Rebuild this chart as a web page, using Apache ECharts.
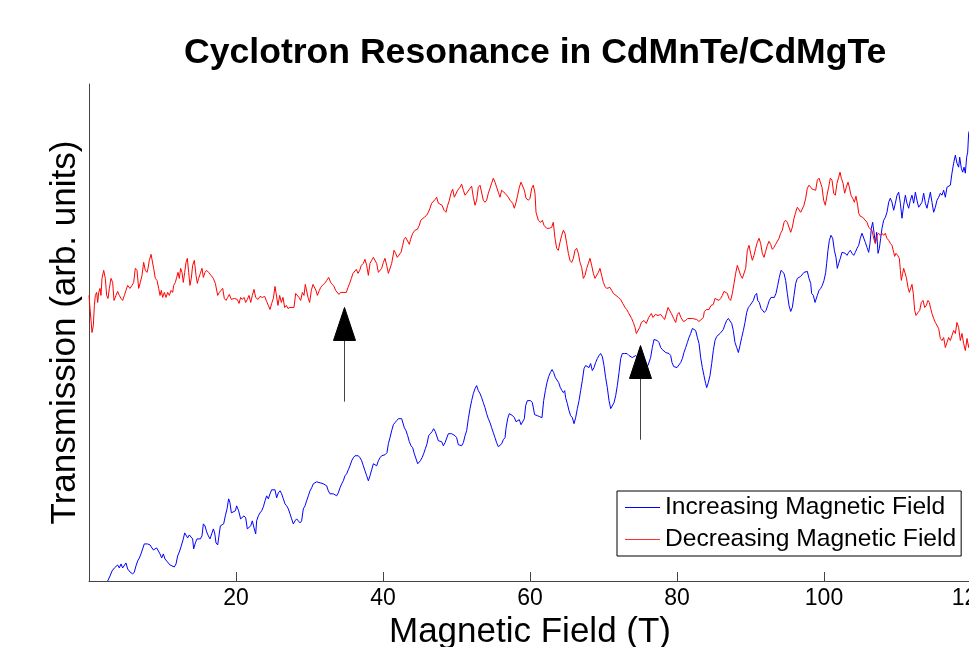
<!DOCTYPE html>
<html>
<head>
<meta charset="utf-8">
<script src="https://cdn.jsdelivr.net/npm/echarts@6/dist/echarts.min.js"></script>
<style>
html,body{margin:0;padding:0;background:#fff;}
#chart{width:969px;height:647px;}
</style>
</head>
<body>
<div id="chart"></div>
<script>
// ---- data ----
const titleText = 'Cyclotron Resonance in CdMnTe/CdMgTe';
const xAxisName = 'Magnetic Field (T)';
const yAxisName = 'Transmission (arb. units)';
const seriesNames = ['Increasing Magnetic Field', 'Decreasing Magnetic Field'];
const xTicks = [0, 20, 40, 60, 80, 100, 120];

// Decreasing field sweep (red): field in T, transmission in arb. units
const redField = [0.0,0.14,0.41,0.59,0.73,0.86,1.04,1.18,1.32,1.50,1.63,1.77,2.00,2.22,2.40,2.59,2.77,2.99,3.22,3.40,3.67,3.90,4.13,4.35,4.58,4.81,5.03,5.26,5.58,5.85,6.08,6.30,6.53,6.76,6.98,7.21,7.44,7.66,7.89,8.03,8.21,8.44,8.66,8.80,9.02,9.25,9.48,9.66,9.84,10.02,10.25,10.48,10.70,10.93,11.16,11.38,11.52,11.75,11.93,12.11,12.29,12.47,12.65,12.83,13.02,13.20,13.38,13.56,13.74,13.92,14.10,14.33,14.56,14.74,14.92,15.15,15.37,15.56,15.78,16.01,16.28,16.60,16.92,17.19,17.51,17.73,17.96,18.19,18.41,18.64,18.87,19.09,19.37,19.77,
20.18,20.41,20.63,20.86,21.09,21.32,21.54,21.77,22.00,22.22,22.45,22.68,23.00,23.27,23.58,23.90,24.17,24.40,24.63,24.85,25.08,25.31,25.53,25.71,25.94,26.17,26.39,26.62,26.85,27.07,27.35,27.62,27.89,28.12,28.35,28.57,28.80,29.03,29.25,29.43,29.61,29.80,30.02,30.25,30.48,30.70,30.88,31.07,31.34,31.52,31.75,32.06,32.34,32.61,32.88,33.11,33.33,33.56,33.79,34.01,34.24,34.47,34.69,35.01,35.24,35.46,35.69,35.92,36.14,36.37,36.60,36.83,37.05,37.32,
37.55,37.78,38.01,38.23,38.46,38.69,38.91,39.14,39.37,39.59,39.82,40.05,40.27,40.50,40.73,40.95,41.18,41.50,41.72,41.95,42.22,42.45,42.68,42.86,43.08,43.31,43.58,43.76,44.04,44.35,44.67,44.94,45.13,45.40,45.62,45.94,46.17,46.39,46.62,46.85,47.12,47.30,47.53,47.76,48.03,48.30,48.57,48.80,49.03,49.25,49.48,49.71,49.93,50.16,50.48,50.70,50.93,51.16,51.38,51.61,51.84,52.06,52.29,52.52,52.74,52.97,53.20,53.42,53.65,53.88,54.10,54.33,54.56,54.78,55.01,55.24,55.46,55.69,55.92,56.14,56.37,56.60,56.83,57.05,57.28,57.64,57.87,58.10,58.32,58.55,58.78,59.00,59.23,59.46,59.78,60.00,60.23,60.45,60.68,60.82,61.13,61.45,61.68,61.90,62.27,62.63,62.95,63.17,63.40,63.63,63.85,64.08,64.31,64.54,64.76,64.99,65.22,65.44,65.67,65.90,66.12,66.35,66.58,66.80,67.03,67.26,67.48,67.71,67.94,68.16,68.39,68.62,68.84,69.07,69.30,69.52,69.75,69.98,70.20,70.43,70.66,70.88,71.11,71.34,71.70,72.02,72.34,72.61,72.93,73.15,73.38,73.61,73.83,74.06,74.29,74.47,
74.92,75.15,75.51,75.83,76.15,76.51,76.73,77.05,77.41,77.78,78.10,78.32,78.55,78.78,79.00,79.23,79.55,79.82,80.05,
80.27,80.54,80.86,81.18,81.45,81.77,82.09,82.36,82.68,83.00,83.27,83.59,83.72,84.04,84.35,84.63,84.94,85.17,85.44,85.71,85.94,86.17,86.39,86.62,86.85,87.07,87.30,87.53,87.76,87.98,88.21,88.44,88.66,88.89,89.12,89.34,89.57,89.80,90.02,90.25,90.48,90.70,90.93,91.16,91.38,91.61,91.84,92.06,92.29,92.52,92.74,92.97,93.20,93.42,93.65,93.88,94.10,94.33,94.56,94.78,95.01,95.24,95.47,95.69,95.92,96.15,96.37,96.60,96.83,97.05,97.28,97.51,97.73,97.96,98.19,98.41,98.64,98.87,99.09,99.32,99.55,
99.73,99.95,100.18,100.41,100.63,100.86,101.09,101.32,101.54,101.77,102.00,102.18,102.36,102.59,102.81,103.04,103.27,103.45,103.67,103.90,104.13,104.35,104.58,104.72,104.94,105.26,105.53,105.85,106.08,106.30,106.53,106.76,106.98,107.21,107.44,107.66,107.89,108.12,108.34,108.57,108.80,109.02,109.25,109.48,109.61,109.80,110.02,110.25,110.39,110.52,110.70,110.84,111.07,111.20,111.43,111.61,111.79,111.97,112.15,112.34,112.52,112.79,113.02,113.24,113.47,113.70,113.92,114.15,114.33,114.51,114.69,114.92,115.15,115.37,115.60,115.83,116.05,116.28,116.51,116.73,116.96,117.19,117.41,117.64,117.87,118.09,118.32,118.55,118.77,119.00,119.23,119.46,119.68,119.86];
const redTrans = [2.85,2.72,2.48,2.55,2.75,2.85,2.88,2.78,2.88,2.92,2.85,3.02,3.10,3.02,2.85,2.82,2.92,3.02,2.98,2.80,2.85,2.89,2.85,2.82,2.80,2.85,2.90,2.95,2.92,2.95,2.98,3.12,3.10,2.92,2.98,3.05,3.18,3.10,3.08,3.12,3.20,3.26,3.25,3.12,3.02,3.00,2.92,2.85,2.90,2.83,2.88,2.83,2.88,2.85,2.90,2.88,2.95,2.98,3.03,3.08,3.02,3.12,3.08,2.98,3.08,3.18,3.22,3.08,2.95,3.02,3.15,3.20,3.05,2.97,3.02,3.07,3.12,3.03,3.08,3.10,3.08,3.05,3.02,2.97,2.85,2.88,2.90,2.92,2.82,2.80,2.83,2.86,2.81,2.82,
2.81,2.77,2.83,2.81,2.83,2.78,2.81,2.85,2.78,2.85,2.91,2.83,2.81,2.84,2.83,2.84,2.79,2.75,2.71,2.77,2.82,2.94,2.94,2.75,2.85,2.78,2.83,2.73,2.75,2.72,2.73,2.72,2.73,2.87,2.88,2.83,2.80,2.88,2.85,2.96,2.95,2.83,2.78,2.90,2.96,2.97,2.90,2.85,2.90,2.93,2.95,2.97,3.00,3.03,2.98,2.96,2.94,2.90,2.89,2.86,2.88,2.87,2.88,2.88,2.93,2.97,3.02,3.07,3.08,3.11,3.07,3.10,3.15,3.17,
3.21,3.15,3.05,3.17,3.20,3.23,3.22,3.17,3.08,3.08,3.12,3.18,3.22,3.15,3.07,3.08,3.17,3.30,3.27,3.23,3.23,3.28,3.35,3.41,3.43,3.42,3.36,3.41,3.47,3.50,3.51,3.55,3.60,3.59,3.63,3.65,3.68,3.72,3.77,3.78,3.81,3.83,3.77,3.77,3.75,3.70,3.68,3.75,3.80,3.87,3.91,3.83,3.83,3.90,3.93,3.96,3.90,3.85,3.87,3.87,3.92,3.94,3.83,3.75,3.80,3.93,3.95,3.94,3.80,3.78,3.80,3.87,3.92,3.97,4.02,3.98,3.93,3.88,3.83,3.90,3.90,3.87,3.86,3.83,3.80,3.77,3.72,3.78,3.85,3.93,3.98,3.98,3.90,3.82,3.80,3.82,3.92,3.95,3.87,3.68,3.60,3.58,3.60,3.55,3.52,3.52,3.53,3.58,3.42,3.32,3.30,3.38,3.45,3.50,3.47,3.37,3.27,3.20,3.18,3.22,3.30,3.32,3.27,3.18,3.13,3.02,3.05,3.12,3.17,3.22,3.15,3.07,3.02,3.03,3.08,3.12,3.05,2.98,2.94,2.92,2.91,2.93,2.90,2.87,2.85,2.83,2.81,2.77,2.73,2.71,2.68,2.67,2.62,2.58,2.53,2.47,
2.53,2.58,2.60,2.57,2.63,2.67,2.63,2.66,2.65,2.66,2.63,2.61,2.67,2.73,2.73,2.67,2.62,2.58,2.66,
2.68,2.63,2.59,2.60,2.62,2.62,2.62,2.61,2.61,2.59,2.60,2.63,2.69,2.71,2.71,2.75,2.76,2.82,2.82,2.80,2.82,2.85,2.89,2.90,2.87,2.82,2.80,2.87,2.97,3.07,3.15,3.15,3.05,3.02,3.03,3.12,3.30,3.35,3.27,3.20,3.25,3.32,3.38,3.42,3.37,3.27,3.23,3.29,3.35,3.39,3.36,3.31,3.33,3.36,3.37,3.42,3.47,3.50,3.58,3.60,3.58,3.57,3.48,3.53,3.62,3.68,3.73,3.72,3.68,3.68,3.75,3.82,3.92,3.95,3.93,3.91,3.90,3.90,4.00,4.02,4.01,
3.93,3.80,3.75,3.85,3.93,4.02,4.00,3.87,3.85,3.97,4.03,4.08,4.02,3.97,3.87,3.93,3.98,3.93,3.85,3.82,3.78,3.84,3.75,3.67,3.64,3.63,3.62,3.58,3.53,3.53,3.50,3.42,3.37,3.45,3.47,3.45,3.47,3.45,3.47,3.42,3.40,3.37,3.35,3.28,3.24,3.27,3.25,3.22,3.10,3.00,3.07,3.12,3.13,3.03,2.93,2.88,2.88,2.96,2.87,2.70,2.65,2.68,2.70,2.78,2.80,2.73,2.75,2.80,2.78,2.72,2.67,2.62,2.58,2.57,2.52,2.42,2.40,2.43,2.33,2.38,2.43,2.40,2.45,2.50,2.47,2.58,2.53,2.40,2.47,2.37,2.30,2.42,2.33,2.40];

// Increasing field sweep (blue)
const blueField = [2.54,2.86,3.13,3.45,3.67,3.90,4.13,4.35,4.58,4.81,5.03,5.26,5.58,5.94,6.17,6.39,6.62,6.85,7.07,7.30,7.52,7.76,7.98,8.30,8.57,8.75,8.98,9.21,9.43,9.66,9.89,10.11,10.34,10.57,10.79,11.02,11.29,11.61,11.84,12.06,12.29,12.47,12.65,12.83,13.02,13.20,13.42,13.65,13.88,14.10,14.24,14.47,14.69,14.92,15.15,15.37,15.56,15.78,16.01,16.24,16.46,16.69,16.92,17.10,17.28,17.51,17.73,17.87,18.10,18.32,18.55,18.78,19.00,19.18,19.37,19.64,19.91,20.09,
20.36,20.63,20.86,21.09,21.32,21.54,21.77,22.00,22.22,22.45,22.68,22.81,23.04,23.27,23.49,23.72,23.95,24.17,24.40,24.63,24.85,25.08,25.31,25.53,25.76,25.99,26.21,26.44,26.67,26.89,27.12,27.35,27.57,27.80,28.03,28.25,28.48,28.71,28.93,29.16,29.39,29.61,29.84,30.07,30.29,30.52,30.75,30.98,31.20,31.43,31.66,31.88,32.11,32.34,32.56,32.79,33.02,33.24,33.47,33.70,33.92,34.15,34.38,34.60,34.83,35.06,35.28,35.51,35.74,35.96,36.19,36.42,36.64,36.87,37.10,37.32,37.55,37.78,38.01,38.23,38.46,38.69,38.91,39.14,39.37,39.59,39.82,40.05,40.27,
40.54,40.73,40.95,41.18,41.41,41.63,41.86,42.09,42.31,42.54,42.77,42.90,43.13,43.36,43.58,43.81,44.04,44.26,44.49,44.72,44.90,45.08,45.31,45.53,45.76,45.99,46.21,46.44,46.67,46.89,47.12,47.35,47.53,47.76,47.98,48.21,48.44,48.66,48.89,49.12,49.34,49.57,49.80,50.02,50.25,50.48,50.70,50.93,51.16,51.38,51.61,51.84,52.06,52.29,52.52,52.74,52.97,53.20,53.42,53.65,53.88,54.10,54.33,54.56,54.78,55.01,55.24,55.46,55.69,55.92,56.15,56.37,56.60,56.73,56.96,57.19,57.41,57.64,57.87,58.10,58.32,58.55,58.78,59.00,59.23,59.41,59.64,59.86,60.09,60.32,
60.63,61.00,61.32,61.63,61.86,62.09,62.31,62.54,62.77,63.00,63.22,63.45,63.67,63.90,64.13,64.35,64.54,64.72,64.85,65.08,65.31,65.53,65.76,65.99,66.21,66.44,66.67,66.89,67.12,67.35,67.57,67.80,68.03,68.25,68.48,68.71,68.93,69.16,69.39,69.61,69.84,70.07,70.29,70.52,70.75,70.98,71.20,71.43,71.66,71.88,72.11,72.34,72.56,72.88,73.20,73.47,73.70,73.92,74.15,74.38,74.90,75.40,76.05,76.41,76.64,76.87,77.10,77.32,77.55,77.78,78.00,78.23,78.46,78.69,78.91,79.14,79.32,79.55,79.77,80.00,
80.27,80.50,80.73,80.95,81.18,81.41,81.63,81.86,82.09,82.31,82.54,82.77,83.00,83.22,83.45,83.67,83.90,84.04,84.26,84.49,84.72,84.94,85.17,85.40,85.62,85.85,86.08,86.30,86.53,86.76,86.99,87.21,87.44,87.66,87.89,88.12,88.35,88.57,88.80,89.03,89.25,89.48,89.71,89.93,90.16,90.39,90.61,90.84,90.98,91.20,91.43,91.66,91.88,92.11,92.34,92.56,92.79,93.02,93.24,93.47,93.70,93.92,94.15,94.33,94.56,94.78,95.01,95.24,95.47,95.69,95.92,96.15,96.37,96.60,96.83,97.05,97.28,97.51,97.73,97.96,98.19,98.32,98.55,98.78,98.91,99.09,99.32,99.55,99.77,100.00,100.23,100.36,
100.54,100.73,100.95,101.18,101.41,101.63,101.81,102.00,102.22,102.45,102.68,102.90,103.13,103.36,103.58,103.81,104.04,104.26,104.49,104.72,104.94,105.17,105.40,105.62,105.85,106.08,106.26,106.44,106.62,106.80,106.99,107.17,107.35,107.53,107.71,107.89,108.12,108.35,108.57,108.80,109.02,109.25,109.48,109.71,109.93,110.16,110.39,110.61,110.84,111.07,111.29,111.52,111.75,111.97,112.20,112.43,112.65,112.88,113.10,113.33,113.56,113.79,114.01,114.24,114.47,114.69,114.92,115.15,115.37,115.60,115.83,116.05,116.28,116.51,116.73,116.96,117.19,117.41,117.64,117.87,118.09,118.32,118.46,118.68,118.87,119.05,119.23,119.41,119.55,119.68,119.82];
const blueTrans = [0.00,0.05,0.10,0.13,0.12,0.16,0.13,0.17,0.13,0.12,0.18,0.12,0.09,0.07,0.09,0.15,0.20,0.23,0.27,0.32,0.37,0.37,0.37,0.36,0.35,0.31,0.31,0.33,0.32,0.27,0.23,0.27,0.22,0.22,0.18,0.16,0.15,0.14,0.17,0.25,0.29,0.33,0.32,0.42,0.48,0.49,0.43,0.46,0.47,0.42,0.32,0.38,0.42,0.41,0.42,0.45,0.57,0.55,0.49,0.45,0.42,0.47,0.52,0.48,0.38,0.36,0.35,0.55,0.54,0.57,0.65,0.72,0.82,0.78,0.68,0.69,0.70,0.75,
0.70,0.62,0.63,0.65,0.63,0.52,0.52,0.55,0.60,0.53,0.47,0.60,0.65,0.68,0.70,0.74,0.80,0.85,0.82,0.87,0.91,0.90,0.91,0.83,0.88,0.90,0.87,0.82,0.77,0.75,0.72,0.67,0.62,0.57,0.60,0.62,0.60,0.58,0.60,0.72,0.75,0.80,0.85,0.90,0.93,0.97,0.98,0.99,1.00,0.98,0.97,0.97,0.96,0.95,0.90,0.87,0.88,0.87,0.86,0.85,0.88,0.93,0.97,1.00,1.05,1.07,1.11,1.15,1.20,1.23,1.25,1.26,1.25,1.23,1.20,1.15,1.10,1.05,1.00,1.05,1.11,1.17,1.17,1.15,1.20,1.23,1.25,1.26,1.26,
1.28,1.37,1.43,1.50,1.56,1.58,1.60,1.62,1.61,1.62,1.61,1.53,1.50,1.45,1.39,1.35,1.33,1.27,1.22,1.17,1.17,1.20,1.23,1.27,1.32,1.37,1.45,1.47,1.49,1.52,1.49,1.48,1.40,1.39,1.39,1.35,1.38,1.39,1.47,1.47,1.47,1.46,1.45,1.43,1.36,1.35,1.35,1.38,1.45,1.50,1.62,1.72,1.80,1.87,1.92,1.95,1.90,1.87,1.83,1.78,1.73,1.67,1.62,1.58,1.53,1.48,1.43,1.38,1.34,1.33,1.37,1.41,1.43,1.52,1.62,1.67,1.68,1.65,1.63,1.59,1.58,1.61,1.56,1.57,1.62,1.75,1.80,1.81,1.80,1.78,
1.66,1.65,1.64,1.63,1.80,1.90,1.98,2.04,2.08,2.11,2.08,2.03,2.02,1.98,1.93,1.90,1.88,1.90,1.83,1.77,1.70,1.65,1.63,1.57,1.63,1.72,1.80,1.90,2.00,2.12,2.15,2.15,2.13,2.17,2.10,2.13,2.18,2.22,2.25,2.27,2.24,2.15,2.03,1.93,1.80,1.72,1.73,1.78,1.85,1.95,2.08,2.22,2.27,2.27,2.27,2.25,2.26,2.23,2.22,2.25,2.20,2.17,2.15,2.23,2.33,2.41,2.42,2.40,2.38,2.33,2.31,2.30,2.28,2.27,2.27,2.25,2.18,2.14,2.13,2.13,
2.13,2.18,2.22,2.28,2.33,2.38,2.43,2.47,2.52,2.51,2.50,2.43,2.37,2.23,2.13,2.05,1.97,1.93,1.98,2.05,2.17,2.30,2.40,2.44,2.45,2.47,2.48,2.51,2.56,2.60,2.62,2.61,2.57,2.50,2.38,2.33,2.28,2.35,2.43,2.50,2.58,2.68,2.73,2.75,2.76,2.80,2.85,2.87,2.80,2.78,2.72,2.73,2.68,2.70,2.75,2.80,2.83,2.83,2.83,2.87,2.95,3.03,3.10,3.11,3.07,3.00,2.87,2.75,2.69,2.73,2.85,2.97,3.02,3.03,3.04,3.03,3.08,3.09,3.09,3.02,2.97,2.87,2.85,2.78,2.77,2.85,2.90,2.92,2.95,3.00,3.08,3.17,
3.30,3.40,3.45,3.42,3.30,3.23,3.12,3.17,3.22,3.28,3.29,3.27,3.25,3.28,3.30,3.27,3.25,3.28,3.32,3.35,3.42,3.47,3.47,3.38,3.33,3.28,3.37,3.52,3.58,3.48,3.37,3.48,3.27,3.32,3.42,3.52,3.60,3.63,3.68,3.78,3.82,3.78,3.70,3.77,3.85,3.88,3.77,3.62,3.75,3.85,3.77,3.72,3.80,3.85,3.77,3.88,3.80,3.73,3.73,3.78,3.87,3.77,3.72,3.80,3.88,3.78,3.68,3.73,3.80,3.83,3.87,3.85,3.90,3.83,3.93,3.93,3.95,4.07,4.17,4.25,4.17,4.13,4.23,4.12,4.08,4.13,4.07,4.23,4.28,4.47,4.50];

// Annotation arrows: field position, tail and tip of arrow (arb. units)
const arrowField = [34.7, 74.9];
const arrowTail = [1.79, 1.41];
const arrowTip = [2.73, 2.35];

// ---- build chart ----
const FONT = '"Liberation Sans", Arial, Helvetica, sans-serif';
const zip = (xs, ys) => xs.map((x, i) => [x, ys[i]]);
const legendColors = ['#0000ff', '#ff3030'];

const chart = echarts.init(document.getElementById('chart'), null, {renderer: 'canvas'});
chart.setOption({
  animation: false,
  backgroundColor: '#fff',
  title: {
    text: titleText,
    left: 179, top: 30,
    textStyle: {fontFamily: FONT, fontSize: 35.6, fontWeight: 'bold', color: '#000'}
  },
  grid: {left: 89, top: 84, right: -2, bottom: 66, containLabel: false, outerBoundsMode: 'none'},
  legend: {
    data: seriesNames.map((n, i) => ({name: n, icon: 'rect', itemStyle: {color: legendColors[i]}})),
    orient: 'vertical',
    left: 617, top: 491,
    itemWidth: 35, itemHeight: 1, itemGap: 7,
    padding: [4, 5, 4, 8],
    borderColor: '#000', borderWidth: 1, borderRadius: 0,
    backgroundColor: '#fff',
    textStyle: {fontFamily: FONT, fontSize: 24.6, color: '#000'}
  },
  xAxis: {
    type: 'value', min: xTicks[0], max: xTicks[xTicks.length - 1], interval: 20,
    name: xAxisName, nameLocation: 'middle', nameGap: 34,
    nameTextStyle: {fontFamily: FONT, fontSize: 35, color: '#000'},
    axisLine: {lineStyle: {color: '#444', width: 1}},
    axisTick: {inside: true, length: 9, lineStyle: {color: '#444'}},
    axisLabel: {showMinLabel: false, fontFamily: FONT, fontSize: 23, color: '#000', margin: 6},
    splitLine: {show: false}
  },
  yAxis: {
    type: 'value', min: 0, max: 4.96,
    name: yAxisName, nameLocation: 'middle', nameGap: 6,
    nameTextStyle: {fontFamily: FONT, fontSize: 35, color: '#000'},
    axisLine: {show: true, lineStyle: {color: '#444', width: 1}},
    axisTick: {show: false},
    axisLabel: {show: false},
    splitLine: {show: false}
  },
  series: [
    {
      name: seriesNames[0], type: 'line', data: zip(blueField, blueTrans),
      symbol: 'none', showSymbol: false, clip: true,
      lineStyle: {color: '#0000ff', width: 1}, itemStyle: {color: '#0000ff'}
    },
    {
      name: seriesNames[1], type: 'line', data: zip(redField, redTrans),
      symbol: 'none', showSymbol: false, clip: true,
      lineStyle: {color: '#ff0000', width: 1}, itemStyle: {color: '#ff0000'}
    },
    {
      name: 'arrows', type: 'custom', z: 10,
      data: arrowField.map((x, i) => [x, arrowTail[i], arrowTip[i]]),
      encode: {x: 0, y: [1, 2]},
      renderItem: function (params, api) {
        const x = api.value(0);
        const tail = api.coord([x, api.value(1)]);
        const tip = api.coord([x, api.value(2)]);
        const headLen = 33, halfW = 11;
        const px = Math.round(tip[0]) + 0.5;
        return {
          type: 'group',
          children: [
            {type: 'line', shape: {x1: px, y1: tail[1], x2: px, y2: tip[1] + headLen},
             style: {stroke: '#444', lineWidth: 1}},
            {type: 'polygon', shape: {points: [[px, tip[1]], [px - halfW, tip[1] + headLen], [px + halfW, tip[1] + headLen]]},
             style: {fill: '#000', stroke: '#000', lineWidth: 1}}
          ]
        };
      }
    }
  ]
});
</script>
</body>
</html>
